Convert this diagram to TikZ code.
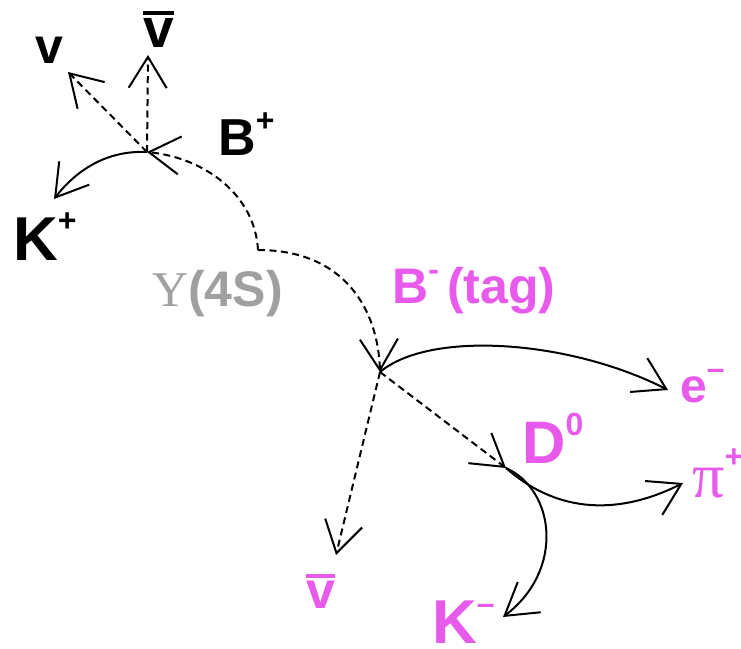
\documentclass[tikz,border=0pt]{standalone}
\usepackage{fontspec}
\usepackage{xcolor}
\usetikzlibrary{arrows.meta}
\setmainfont{Liberation Sans}
\newfontfamily\serifgreek{Liberation Serif}
\definecolor{tagpink}{RGB}{232,90,236}
\definecolor{upsgray}{RGB}{160,160,160}
\newcommand\upper[1]{\raisebox{0.46em}{\fontsize{32}{32}\selectfont\bfseries #1}}
\newcommand\barv{\leavevmode\vbox{\hrule height 3.5pt\kern 3pt\hbox{v}}}

\begin{document}
\begin{tikzpicture}[x=1pt,y=-1pt,
  lbl/.style={anchor=base west,inner sep=0pt,font=\bfseries},
  track/.style={line width=2pt,-{Straight Barb[length=31pt,width=38pt]}},
  invis/.style={track,dash pattern=on 7pt off 4.5pt}]
\useasboundingbox (0,0) rectangle (741,648);

% vertices
\coordinate (vbp) at (147,152);
\coordinate (vup) at (258,250);
\coordinate (vbm) at (380,372);
\coordinate (vdz) at (506,468);
% free ends
\coordinate (tnu) at (68,72);
\coordinate (tnubar) at (148,55);
\coordinate (tkp) at (54,199);
\coordinate (tem) at (668,390);
\coordinate (tpi) at (683,483);
\coordinate (tkm) at (503,617);
\coordinate (tnub) at (336,555);

% labels
\node[lbl,font=\bfseries\fontsize{50}{50}\selectfont] (nu) at (35,63) {v};
\node[lbl,font=\bfseries\fontsize{55}{55}\selectfont] (nubar) at (143,47) {\barv};
\node[lbl,font=\bfseries\fontsize{52}{52}\selectfont] (bplus) at (218,155) {B\upper{+}};
\node[lbl,font=\bfseries\fontsize{62}{62}\selectfont] (kplus) at (13,260) {K\upper{+}};
\node[lbl,text=upsgray,font=\bfseries\fontsize{50}{50}\selectfont] (ups) at (152,306) {{\serifgreek\mdseries Υ}(4S)};
\node[lbl,text=tagpink,font=\bfseries\fontsize{50}{50}\selectfont] (bminus) at (392,303) {B\upper{-}\,(tag)};
\node[lbl,text=tagpink,font=\bfseries\fontsize{48}{48}\selectfont] (eminus) at (680,402) {e\upper{–}};
\node[lbl,text=tagpink,font=\bfseries\fontsize{60}{60}\selectfont] (dzero) at (522,463) {D\upper{0}};
\node[lbl,text=tagpink,font=\fontsize{64}{64}\selectfont] (piplus) at (692,497) {{\serifgreek π}\upper{+}};
\node[lbl,text=tagpink,font=\bfseries\fontsize{52}{52}\selectfont] (nubarb) at (306,608) {\barv};
\node[lbl,text=tagpink,font=\bfseries\fontsize{62}{62}\selectfont] (kminus) at (432,643) {K\upper{–}};

% upsilon -> B+ B-
\draw[invis] (vup) .. controls (255,195) and (205,158) .. (vbp);
\draw[invis] (vup) .. controls (345,250) and (378,310) .. (vbm);

% signal side
\draw[invis] (vbp) -- (tnu);
\draw[invis] (vbp) -- (tnubar);
\draw[track] (vbp) .. controls (105,150) and (75,172) .. (tkp);

% tag side
\draw[track] (vbm) .. controls (430,330) and (570,340) .. (tem);
\draw[invis] (vbm) -- (vdz);
\draw[invis] (vbm) -- (tnub);
\draw[track] (vdz) .. controls (565,520) and (630,510) .. (tpi);
\draw[track] (vdz) .. controls (555,490) and (565,570) .. (tkm);
\end{tikzpicture}
\end{document}
